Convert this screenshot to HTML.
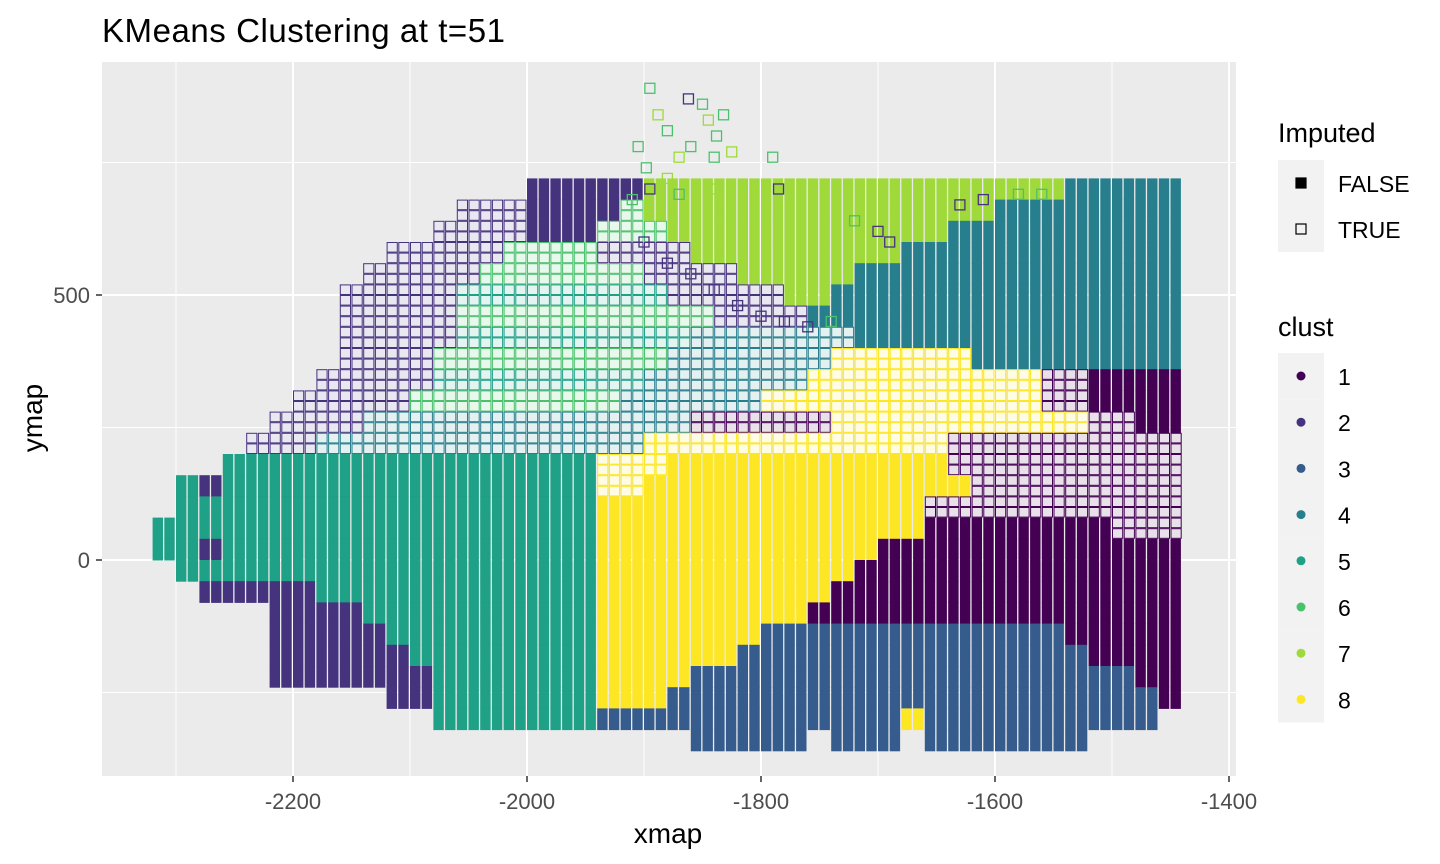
<!DOCTYPE html>
<html><head><meta charset="utf-8"><style>
html,body{margin:0;padding:0;background:#fff;}
svg{display:block;font-family:"Liberation Sans",Arial,sans-serif;}
</style></head><body>
<svg id="chart" width="1440" height="864" viewBox="0 0 1440 864">
<text x="102" y="42" font-size="33" textLength="403" fill="#000">KMeans Clustering at t=51</text>
<rect x="102" y="62" width="1134" height="714" fill="#EBEBEB"/>
<g id="grid"></g>
<g id="cells"></g>
<g id="pts"></g>
<g id="axes"></g>
<text x="668" y="843" font-size="28" text-anchor="middle" fill="#000">xmap</text>
<text transform="translate(42,418) rotate(-90)" font-size="28" text-anchor="middle" fill="#000">ymap</text>
<g id="legend"></g>
</svg>
<script>
const xTicks=[-2200,-2000,-1800,-1600,-1400];
const xMinor=[-2300,-2100,-1900,-1700,-1500];
const yTicks=[0,500];
const yMinor=[-250,250,750];
const clusterColors=["#440154","#46337E","#365C8D","#277F8E","#1FA187","#4AC16D","#9FDA3A","#FDE725"];
const clusterLabels=["1","2","3","4","5","6","7","8"];
const gridX0=-2320, gridDx=20, gridY0=720, gridDy=40;
// per row: "startCol-endCol:code"; digit = filled cluster, letter a-h = imputed cluster 1-8
const cellRows=[
"16-20:2,21-38:7,39-43:4",
"13-15:b,16-19:2,20:f,21-35:7,36-43:4",
"12-15:b,16-18:2,19-21:f,22-33:7,34-43:4",
"10-14:b,15-18:f,19-22:b,23-31:7,32-43:4",
"9-13:b,14-20:f,21-24:b,25-29:7,30-43:4",
"8-12:b,13-21:e,22-26:b,27-28:7,29-43:4",
"8-12:b,13-23:f,24-27:b,28-43:4",
"8-12:b,13-22:e,23-29:d,30-43:4",
"8-11:b,12-21:f,22-28:d,29-34:h,35-43:4",
"7-11:b,12-20:e,21-27:d,28-37:h,38-39:a,40-43:1",
"6-10:b,11-19:f,20-25:d,26-37:h,38-39:a,40-43:1",
"5-8:b,9-22:d,23-28:a,29-39:h,40-41:a,42-43:1",
"4-6:b,7-20:d,21-33:h,34-43:a",
"3-18:5,19-21:h,22-33:8,34-43:a",
"1:5,2:2,3-18:5,19-20:h,21-34:8,35-43:a",
"1-18:5,19-32:8,33-43:a",
"0-18:5,19-32:8,33-40:1,41-43:a",
"0-1:5,2:2,3-18:5,19-30:8,31-43:1",
"1-18:5,19-29:8,30-43:1",
"2-6:2,7-18:5,19-28:8,29-43:1",
"5-8:2,9-18:5,19-27:8,28-43:1",
"5-9:2,10-18:5,19-25:8,26-38:3,39-43:1",
"5-10:2,11-18:5,19-24:8,25-39:3,40-43:1",
"5-11:2,12-18:5,19-22:8,23-41:3,42-43:1",
"10-11:2,12-18:5,19-21:8,22-42:3,43:1",
"12-18:5,19-31:3,32:8,33-42:3",
"23-27:3,29-31:3,33-39:3"
];
// top scattered imputed points: x, y, cluster
const ptX=[-1895,-1888,-1880,-1862,-1850,-1845,-1838,-1832,-1870,-1860,-1905,-1898,-1880,-1840,-1825,-1790,-1785,-1840,-1870,-1895,-1910,-1720,-1700,-1610,-1630,-1580,-1560,-1690,-1760,-1740,-1900,-1880,-1860,-1840,-1820,-1800,-1780];
const ptY=[890,840,810,870,860,830,800,840,760,780,780,740,720,760,770,760,700,700,690,700,680,640,620,680,670,690,690,600,440,450,600,560,540,510,480,460,450];
const ptC=[6,7,6,2,6,7,6,6,7,6,6,6,7,6,7,6,2,7,6,2,6,6,2,2,2,6,6,2,2,6,2,2,2,2,2,2,2];

const NS="http://www.w3.org/2000/svg";
function xs(v){return 293+(v+2200)*1.17;}
function ys(v){return 560-v*0.53;}
function mk(tag,attrs,parent){const e=document.createElementNS(NS,tag);for(const k in attrs)e.setAttribute(k,attrs[k]);parent.appendChild(e);return e;}
function mix(hex,t){const n=parseInt(hex.slice(1),16);const r=(n>>16)&255,g=(n>>8)&255,b=n&255;const f=c=>Math.round(c+(255-c)*t);return "rgb("+f(r)+","+f(g)+","+f(b)+")";}
const grid=document.getElementById('grid');
xMinor.forEach(v=>{const l=mk('line',{x1:xs(v),x2:xs(v),y1:62,y2:776,stroke:'#fff','stroke-width':1},grid);});
yMinor.forEach(v=>{const l=mk('line',{x1:102,x2:1236,y1:ys(v),y2:ys(v),stroke:'#fff','stroke-width':1},grid);});
xTicks.forEach(v=>{const l=mk('line',{x1:xs(v),x2:xs(v),y1:62,y2:776,stroke:'#fff','stroke-width':2},grid);});
yTicks.forEach(v=>{const l=mk('line',{x1:102,x2:1236,y1:ys(v),y2:ys(v),stroke:'#fff','stroke-width':2},grid);});

const cells=document.getElementById('cells');
const pw=gridDx*1.17/2, ph=gridDy*0.53;
function drawCell(i,r,ch){
  let c, hollow=false;
  if(ch>='1'&&ch<='8'){c=+ch-1;}else{c=ch.charCodeAt(0)-97;hollow=true;}
  const col=clusterColors[c];
  const x0=xs(gridX0+gridDx*i), y0=ys(gridY0-gridDy*r);
  for(let s=0;s<2;s++){
    const x=x0+s*pw;
    if(!hollow){
      const e=mk('rect',{x:x,y:y0,width:pw-1.3,height:ph+0.5,fill:col},cells);
      
      
    }else{
      for(let t=0;t<2;t++){
        const e=mk('rect',{x:x+0.5,y:y0+t*ph/2+0.5,width:pw-1.5,height:ph/2-1,fill:mix(col,0.88),stroke:col,'stroke-width':1},cells);
        
        
      }
    }
  }
}
cellRows.forEach((row,r)=>{
  row.split(',').forEach(seg=>{
    const [rng,ch]=seg.split(':');
    const p=rng.split('-');const a=+p[0], b=p.length>1?+p[1]:a;
    for(let i=a;i<=b;i++)drawCell(i,r,ch);
  });
});
const pts=document.getElementById('pts');
ptX.forEach((v,i)=>{
  const e=mk('rect',{x:xs(v)-5,y:ys(ptY[i])-5,width:10,height:10,fill:'none',stroke:clusterColors[ptC[i]-1],'stroke-width':1.3},pts);
  
  
});
const axes=document.getElementById('axes');
xTicks.forEach(v=>{
  const t=mk('line',{x1:xs(v),x2:xs(v),y1:776,y2:782,stroke:'#333','stroke-width':1.5},axes);
  
  const l=mk('text',{x:xs(v),y:809,'font-size':22,'text-anchor':'middle',fill:'#4D4D4D'},axes);
  l.textContent=v; 
});
yTicks.forEach(v=>{
  const t=mk('line',{x1:96,x2:102,y1:ys(v),y2:ys(v),stroke:'#333','stroke-width':1.5},axes);
  
  const l=mk('text',{x:90,y:ys(v)+8,'font-size':22,'text-anchor':'end',fill:'#4D4D4D'},axes);
  l.textContent=v; 
});
const lg=document.getElementById('legend');
let tt=mk('text',{x:1278,y:142,'font-size':27,fill:'#000'},lg);tt.textContent='Imputed';

['FALSE','TRUE'].forEach((lab,i)=>{
  const y=160+i*46;
  const k=mk('rect',{x:1278,y:y,width:46,height:46,fill:'#F2F2F2'},lg);
  
  const s=mk('rect',{x:1296,y:y+18,width:10,height:10,fill:i?'none':'#000',stroke:'#000','stroke-width':1.2},lg);
  
  const t=mk('text',{x:1338,y:y+32,'font-size':23,fill:'#000'},lg);t.textContent=lab;
  
});
tt=mk('text',{x:1278,y:336,'font-size':27,fill:'#000'},lg);tt.textContent='clust';

clusterLabels.forEach((lab,i)=>{
  const y=353+i*46.2;
  const k=mk('rect',{x:1278,y:y,width:46,height:46.2,fill:'#F2F2F2'},lg);
  
  const s=mk('circle',{cx:1301,cy:y+23,r:4.5,fill:clusterColors[i]},lg);
  
  const t=mk('text',{x:1338,y:y+32,'font-size':23,fill:'#000'},lg);t.textContent=lab;
  
});
</script>
</body></html>
